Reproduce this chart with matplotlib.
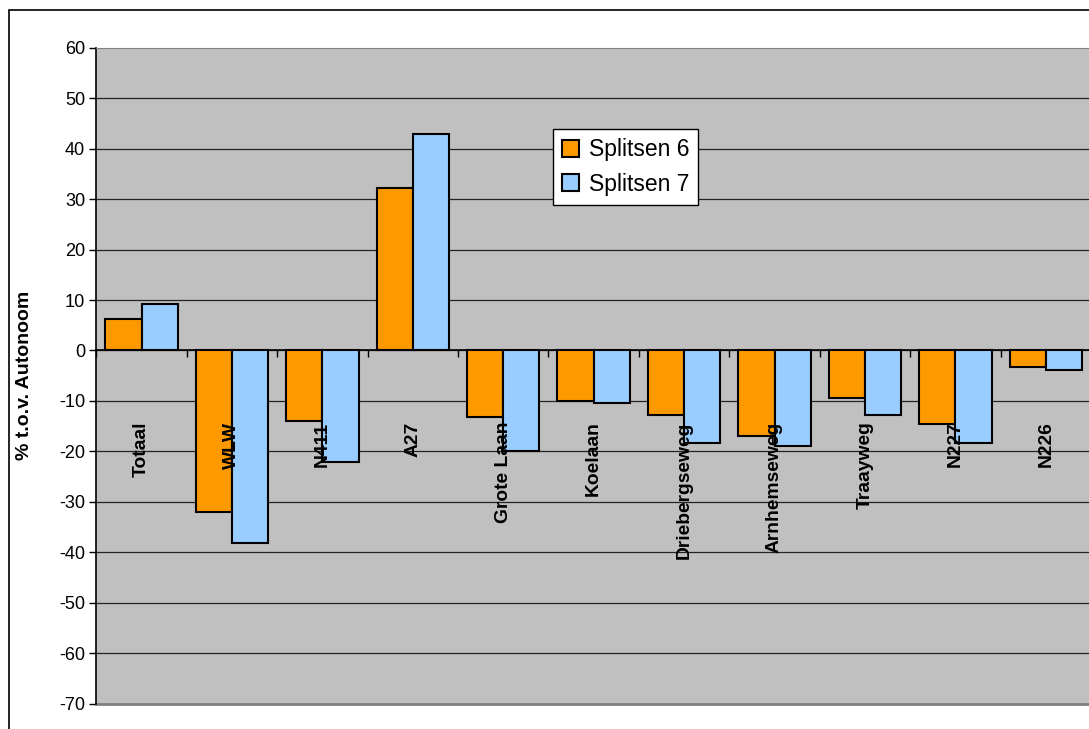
import numpy as np
import matplotlib.pyplot as plt
from matplotlib.patches import Rectangle

# Categories and percentage change against the autonomous scenario
categories = ["Totaal", "WLW", "N411", "A27", "Grote Laan", "Koelaan",
              "Driebergseweg", "Arnhemseweg", "Traayweg", "N227", "N226"]
splitsen6 = [6.3, -32.1, -14.0, 32.2, -13.1, -10.1, -12.7, -16.9, -9.4, -14.5, -3.2]
splitsen7 = [9.3, -38.2, -22.1, 42.9, -19.9, -10.4, -18.4, -19.0, -12.7, -18.4, -3.8]
y_ticks = list(range(-70, 61, 10))


def main():
    plt.rcParams["font.family"] = ["Liberation Sans", "DejaVu Sans"]

    fig = plt.figure(figsize=(10.89, 7.29), dpi=100)
    W, H = 1089, 729

    # chart area frame
    fig.patches.append(Rectangle((9 / W, -0.1), 1.2, 1 - 10 / H + 0.1,
                                 transform=fig.transFigure, fill=False,
                                 edgecolor="black", linewidth=1.2))

    ax = fig.add_axes([96.3 / W, 25.3 / H, 994.7 / W, 656 / H])
    ax.set_facecolor("#C0C0C0")

    x = np.arange(len(categories))
    bw = 0.4
    ax.bar(x - bw / 2, splitsen6, bw, color="#FF9900", edgecolor="black",
           linewidth=1.5, label="Splitsen 6", zorder=3)
    ax.bar(x + bw / 2, splitsen7, bw, color="#99CCFF", edgecolor="black",
           linewidth=1.5, label="Splitsen 7", zorder=3)

    ax.set_xlim(-0.5, len(categories) - 0.5)
    ax.set_ylim(-70, 60)
    ax.set_yticks(y_ticks)
    ax.set_yticklabels([str(v) for v in y_ticks], fontsize=13.1)
    ax.tick_params(axis="y", direction="out", length=5, width=1, pad=3)

    # gridlines
    for v in y_ticks[1:-1]:
        ax.axhline(v, color="#222222", linewidth=0.9, zorder=1)

    # category axis runs along zero
    ax.spines["bottom"].set_position(("data", 0))
    ax.spines["bottom"].set_zorder(4)
    ax.spines["bottom"].set_linewidth(1.2)
    ax.set_xticks(np.arange(len(categories) + 1) - 0.5)
    ax.set_xticklabels([])
    ax.tick_params(axis="x", direction="out", length=5, width=1)
    ax.spines["left"].set_linewidth(1.2)
    ax.spines["top"].set_color("#808080")
    ax.spines["right"].set_visible(False)

    # plot area bottom border
    ax.axhline(-70, color="#808080", linewidth=2, zorder=2, clip_on=False)

    for i, name in enumerate(categories):
        ax.text(i, -14.1, name, rotation=90, ha="center", va="top",
                fontsize=13.9, fontweight="bold", zorder=5)

    ax.set_ylabel("% t.o.v. Autonoom", fontsize=14, fontweight="bold")
    ax.yaxis.set_label_coords(-0.0636, 0.5)

    leg = ax.legend(loc="upper left", bbox_to_anchor=((553 - 96.3) / 994.7, 1 - (129 - 47.7) / 656),
                    fontsize=16.5, frameon=True, fancybox=False, borderpad=0.4,
                    handlelength=0.75, handleheight=0.75, handletextpad=0.4,
                    labelspacing=0.5, borderaxespad=0)
    leg.get_frame().set_edgecolor("black")
    leg.get_frame().set_linewidth(1)
    leg.get_frame().set_alpha(1)
    leg.set_zorder(6)

    fig.savefig("out.png", dpi=100, facecolor="white")


if __name__ == "__main__":
    main()
